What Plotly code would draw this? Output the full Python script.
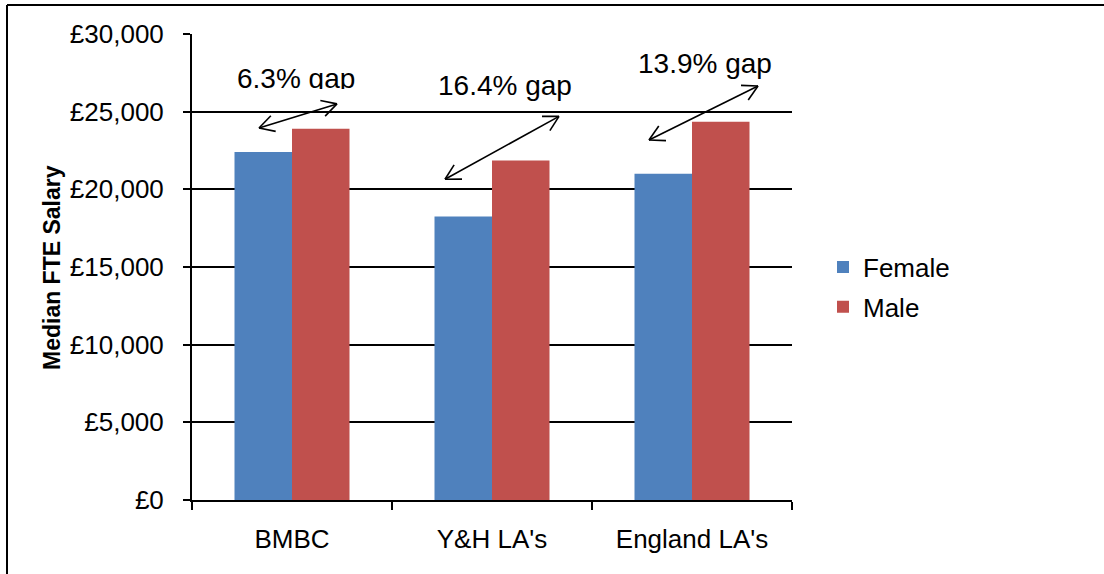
import math
import plotly.graph_objects as go

categories = ["BMBC", "Y&H LA's", "England LA's"]
female = [22400, 18250, 21000]
male = [23900, 21850, 24350]
gap_labels = ["6.3% gap", "16.4% gap", "13.9% gap"]
# label centres (category index, value)
label_pos = [(0.02, 27250), (1.065, 26700), (2.065, 28100)]
# arrow ends (category index, value)
arrows = [((-0.165, 23950), (0.225, 25500)),
          ((0.765, 20650), (1.335, 24700)),
          ((1.785, 23180), (2.33, 26650))]
y_ticks = list(range(0, 30001, 5000))
y_ticktext = ["£0", "£5,000", "£10,000", "£15,000", "£20,000", "£25,000", "£30,000"]

W, H = 1104, 574
L, R, T, B = 192, 312, 34, 74
PW, PH = W - L - R, H - T - B
YMAX = 30000
FONT = "Liberation Sans, Arial, sans-serif"

def to_px(xi, yv):
    return L + (xi + 0.5) / 3 * PW, T + PH * (1 - yv / YMAX)

def px_to_paper(px, py):
    return (px - L) / PW, (H - B - py) / PH

fig = go.Figure()
fig.add_trace(go.Bar(name="Female", x=categories, y=female, marker_color="#4F81BD",
                     marker_line_width=0, legendgroup="f"))
fig.add_trace(go.Bar(name="Male", x=categories, y=male, marker_color="#C0504D",
                     marker_line_width=0, legendgroup="m"))

shapes = []
line = dict(color="black", width=1.6)
for (a, b) in arrows:
    p1 = to_px(*a)
    p2 = to_px(*b)
    x1, y1 = px_to_paper(*p1)
    x2, y2 = px_to_paper(*p2)
    shapes.append(dict(type="line", xref="paper", yref="paper", x0=x1, y0=y1, x1=x2, y1=y2, line=line))
    # open V heads
    for tip, other in ((p1, p2), (p2, p1)):
        ang = math.atan2(other[1] - tip[1], other[0] - tip[0])
        for d in (-0.5, 0.5):
            wx = tip[0] + 17 * math.cos(ang + d)
            wy = tip[1] + 17 * math.sin(ang + d)
            tx, ty = px_to_paper(*tip)
            qx, qy = px_to_paper(wx, wy)
            shapes.append(dict(type="line", xref="paper", yref="paper", x0=tx, y0=ty, x1=qx, y1=qy, line=line))

# outer border (top and left)
bx0, by0 = px_to_paper(7, 5)
bx1, _ = px_to_paper(W + 5, 5)
_, bybot = px_to_paper(7, H + 5)
shapes.append(dict(type="line", xref="paper", yref="paper", x0=bx0, y0=by0, x1=bx1, y1=by0,
                   line=dict(color="black", width=2)))
shapes.append(dict(type="line", xref="paper", yref="paper", x0=bx0, y0=by0, x1=bx0, y1=bybot,
                   line=dict(color="black", width=2)))

annotations = []
for i, (txt, (xi, yv)) in enumerate(zip(gap_labels, label_pos)):
    px, py = to_px(xi, yv)
    extra = {}
    if i == 0:
        # first label's text box is clipped just below the baseline
        px, py = px, py - 1
        extra = dict(height=26, valign="top")
        py = py + 0
    ax_, ay_ = px_to_paper(px, py)
    annotations.append(dict(text=txt, xref="paper", yref="paper", x=ax_, y=ay_,
                            showarrow=False, xanchor="center", yanchor="middle",
                            font=dict(family=FONT, size=28, color="black"), **extra))
tx, ty = px_to_paper(52, 268)
annotations.append(dict(text="<b>Median FTE Salary</b>", xref="paper", yref="paper", x=tx, y=ty,
                        textangle=-90, showarrow=False, xanchor="center", yanchor="middle",
                        font=dict(family=FONT, size=23, color="black")))

lx, ly = px_to_paper(823, 287)

fig.update_layout(
    width=W, height=H,
    margin=dict(l=L, r=R, t=T, b=B, autoexpand=False),
    paper_bgcolor="white", plot_bgcolor="white",
    barmode="group", bargap=0.425, bargroupgap=0,
    font=dict(family=FONT, size=26, color="black"),
    showlegend=True,
    legend=dict(x=lx, y=ly, xanchor="left", yanchor="middle", tracegroupgap=3,
                font=dict(size=26), itemwidth=30, bgcolor="rgba(0,0,0,0)"),
    shapes=shapes, annotations=annotations,
    xaxis=dict(showline=True, linecolor="black", linewidth=2, ticks="outside",
               tickson="boundaries", ticklen=8, tickwidth=2, tickcolor="black",
               showgrid=False, ticklabelstandoff=15, automargin=False),
    yaxis=dict(range=[0, YMAX], tickvals=y_ticks, ticktext=y_ticktext,
               showline=True, linecolor="black", linewidth=2, ticks="outside",
               ticklen=7, tickwidth=2, tickcolor="black", showgrid=True,
               gridcolor="black", gridwidth=2, zeroline=False,
               ticklabelstandoff=14, automargin=False),
)

fig.write_html("out.html")
